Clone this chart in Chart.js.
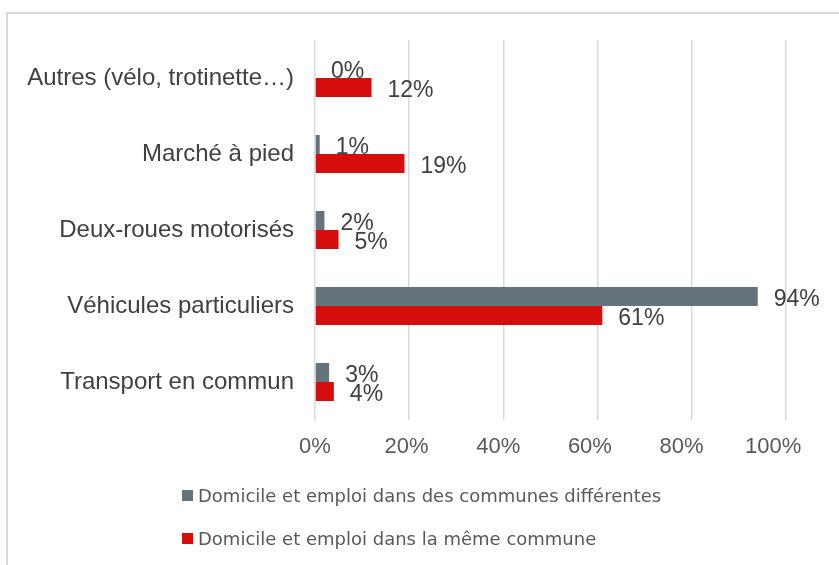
<!DOCTYPE html>
<html>
<head>
<meta charset="utf-8">
<script src="https://cdn.jsdelivr.net/npm/chart.js@4.4.1/dist/chart.umd.min.js"></script>
<style>
    html, body { margin: 0; padding: 0; background: #fff; }
    #wrap { position: relative; width: 839px; height: 565px; overflow: hidden; }
    #frame {
        position: absolute; left: 6px; top: 12px; width: 900px; height: 600px;
        border: 2px solid #d9d9d9; box-sizing: border-box;
    }
    #chart { position: absolute; left: 0; top: 0; }
    .legend-item {
        position: absolute; left: 182px; display: flex; align-items: center;
        font-family: "DejaVu Sans", sans-serif; font-size: 18px; color: #595959;
        white-space: nowrap;
    }
    .legend-item span.box { width: 11px; height: 11px; margin-right: 5px; display: inline-block; }
</style>
</head>
<body>
<div id="wrap">
    <div id="frame"></div>
    <canvas id="chart" width="839" height="565"></canvas>
    <div id="legend"></div>
</div>
<script>
// Data
const categories = ['Autres (vélo, trotinette…)', 'Marché à pied', 'Deux-roues motorisés', 'Véhicules particuliers', 'Transport en commun'];
const differentCommunes = [0, 1, 2, 94, 3];
const sameCommune = [12, 19, 5, 61, 4];
const seriesNames = ['Domicile et emploi dans des communes différentes', 'Domicile et emploi dans la même commune'];
const seriesColors = ['#65747c', '#d60d0d'];
const xTicks = [0, 20, 40, 60, 80, 100];

const fontFamily = '"Liberation Sans", Arial, sans-serif';

// value labels at the end of each bar
const valueLabels = {
    id: 'valueLabels',
    afterDatasetsDraw(chart) {
        const ctx = chart.ctx;
        ctx.save();
        ctx.font = '23px ' + fontFamily;
        ctx.fillStyle = '#404040';
        ctx.textAlign = 'left';
        ctx.textBaseline = 'middle';
        chart.data.datasets.forEach((ds, i) => {
            chart.getDatasetMeta(i).data.forEach((bar, j) => {
                ctx.fillText(ds.data[j] + '%', bar.x + 16, bar.y + 3);
            });
        });
        ctx.restore();
    }
};

const ctx = document.getElementById('chart').getContext('2d');
new Chart(ctx, {
    type: 'bar',
    data: {
        labels: categories,
        datasets: [
            { label: seriesNames[0], data: differentCommunes, backgroundColor: seriesColors[0] },
            { label: seriesNames[1], data: sameCommune, backgroundColor: seriesColors[1] }
        ]
    },
    options: {
        indexAxis: 'y',
        responsive: false,
        animation: false,
        categoryPercentage: 0.5,
        barPercentage: 1.0,
        layout: { padding: { left: 0, top: 40, right: 53, bottom: 105 } },
        plugins: {
            legend: { display: false },
            tooltip: { enabled: false }
        },
        scales: {
            // value axis: bars and gridlines
            x: {
                min: 0,
                max: 100,
                afterBuildTicks: axis => { axis.ticks = xTicks.map(v => ({ value: v })); },
                afterFit: axis => { axis.height = 0; },
                grid: { color: '#d9d9d9', lineWidth: 1.5, drawTicks: false },
                border: { display: false },
                ticks: { display: false }
            },
            // tick labels only (in the original they sit a little left of the gridlines)
            x2: {
                position: 'bottom',
                min: 0,
                max: 102.8,
                afterBuildTicks: axis => { axis.ticks = xTicks.map(v => ({ value: v })); },
                afterFit: axis => { axis.height = 40; },
                grid: { display: false, drawTicks: false },
                border: { display: false },
                ticks: {
                    padding: 14,
                    color: '#595959',
                    font: { family: fontFamily, size: 22 },
                    callback: v => v + '%'
                }
            },
            y: {
                afterFit: axis => { axis.width = 315; },
                grid: { display: false, drawTicks: false },
                border: { display: false },
                ticks: {
                    padding: 21,
                    color: '#404040',
                    font: { family: fontFamily, size: 24 }
                }
            }
        }
    },
    plugins: [valueLabels]
});

// legend stacked on two lines, like the original
const legend = document.getElementById('legend');
seriesNames.forEach((name, i) => {
    const item = document.createElement('div');
    item.className = 'legend-item';
    item.style.top = (485 + i * 43) + 'px';
    item.innerHTML = '<span class="box" style="background:' + seriesColors[i] + '"></span>' + name;
    legend.appendChild(item);
});
</script>
</body>
</html>
